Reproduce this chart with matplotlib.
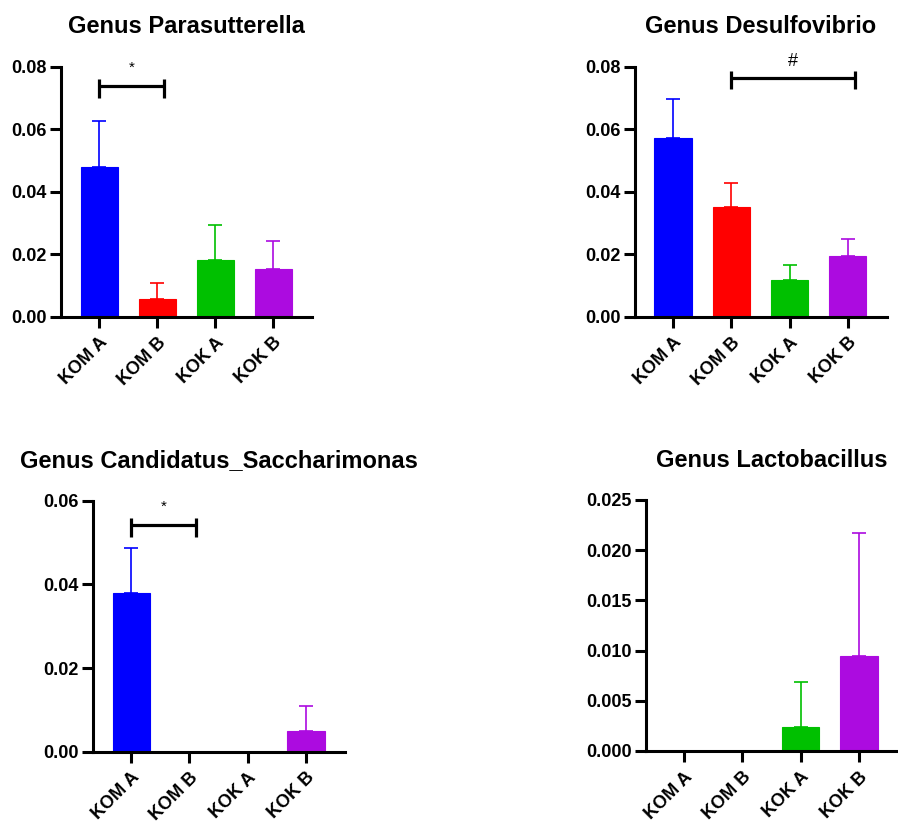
import numpy as np
import matplotlib
matplotlib.use("Agg")
import matplotlib.pyplot as plt

plt.rcParams['font.family'] = ['Liberation Sans', 'DejaVu Sans']
plt.rcParams['font.weight'] = 'bold'

groups = ["KOM A", "KOM B", "KOK A", "KOK B"]
colors = ["#0000FF", "#FF0000", "#00C000", "#AC0BE0"]

titles = ["Genus Parasutterella", "Genus Desulfovibrio",
          "Genus Candidatus_Saccharimonas", "Genus Lactobacillus"]

# means and upper error (mean + SEM tops)
parasutterella_mean = [0.0480, 0.0058, 0.0182, 0.0154]
parasutterella_top = [0.0625, 0.0107, 0.0294, 0.0244]
desulfovibrio_mean = [0.0571, 0.0351, 0.0119, 0.0193]
desulfovibrio_top = [0.0696, 0.0429, 0.0165, 0.0248]
saccharimonas_mean = [0.0379, 0.0, 0.0, 0.0050]
saccharimonas_top = [0.0488, 0.0, 0.0, 0.0109]
lactobacillus_mean = [0.0, 0.0, 0.0024, 0.0095]
lactobacillus_top = [0.0, 0.0, 0.0069, 0.0217]

means = [parasutterella_mean, desulfovibrio_mean, saccharimonas_mean, lactobacillus_mean]
tops = [parasutterella_top, desulfovibrio_top, saccharimonas_top, lactobacillus_top]

y_max = [0.08, 0.08, 0.06, 0.025]
y_step = [0.02, 0.02, 0.02, 0.005]
y_fmt = ["%.2f", "%.2f", "%.2f", "%.3f"]

# significance brackets: (panel, group from, group to, bracket height, label)
sig_panel = [0, 1, 2]
sig_from = [0, 1, 0]
sig_to = [1, 3, 1]
sig_y = [0.0737, 0.0765, 0.0542]
sig_label = ["*", "#", "*"]

# axes rectangles in figure fraction
rects = [[0.068, 0.615, 0.2795, 0.304],
         [0.707, 0.615, 0.2806, 0.304],
         [0.1036, 0.0866, 0.2806, 0.305],
         [0.7194, 0.0875, 0.2806, 0.305]]

fig = plt.figure(figsize=(8.98, 8.23), dpi=100)
axes = []
x = np.arange(len(groups))
for i in range(4):
    ax = fig.add_axes(rects[i])
    axes.append(ax)
    m = np.array(means[i])
    err = np.array(tops[i]) - m
    ax.bar(x, m, width=0.64, color=colors, edgecolor=colors, linewidth=0.8, zorder=2)
    for j in range(len(groups)):
        if err[j] > 0:
            ax.errorbar(x[j], m[j], yerr=[[0], [err[j]]], fmt='none', ecolor=colors[j],
                        elinewidth=1.2, capsize=5, capthick=1.2, zorder=1)
    ax.set_xlim(-0.655, 3.67)
    ax.set_ylim(0, y_max[i])
    yt = np.arange(0, y_max[i] + y_step[i] / 2, y_step[i])
    ax.set_yticks(yt)
    ax.set_yticklabels([y_fmt[i] % v for v in yt], fontsize=13, fontweight='bold')
    ax.set_xticks(x)
    ax.set_xticklabels(groups, rotation=45, ha='right', rotation_mode='anchor',
                       fontsize=13, fontweight='bold')
    ax.tick_params(axis='both', width=2.2, length=8, pad=2.5)
    ax.tick_params(axis='x', length=8, pad=4.5)
    for s in ['top', 'right']:
        ax.spines[s].set_visible(False)
    for s in ['left', 'bottom']:
        ax.spines[s].set_linewidth(2.2)
    ax.spines['left'].set_zorder(3)
    ax.spines['bottom'].set_zorder(3)
    ax.set_title(titles[i], fontsize=17, fontweight='bold', pad=24)

for k in range(len(sig_panel)):
    ax = axes[sig_panel[k]]
    ym = y_max[sig_panel[k]]
    x0 = sig_from[k]
    x1 = sig_to[k] + 0.12
    h = sig_y[k]
    d = ym * 0.047
    ax.plot([x0, x1], [h, h], color='black', lw=2.3, clip_on=False, solid_capstyle='butt')
    ax.plot([x0, x0], [h - d, h + d * 0.6], color='black', lw=2.3, clip_on=False, solid_capstyle='butt')
    ax.plot([x1, x1], [h - d, h + d * 0.6], color='black', lw=2.3, clip_on=False, solid_capstyle='butt')
    if sig_label[k] == "*":
        ax.text((x0 + x1) / 2, h + ym * 0.045, "*", ha='center', va='bottom', fontsize=11, fontweight='normal')
    else:
        ax.text((x0 + x1) / 2, h + ym * 0.03, "#", ha='center', va='bottom', fontsize=13, fontweight='normal')

fig.savefig("out.png", dpi=100)
